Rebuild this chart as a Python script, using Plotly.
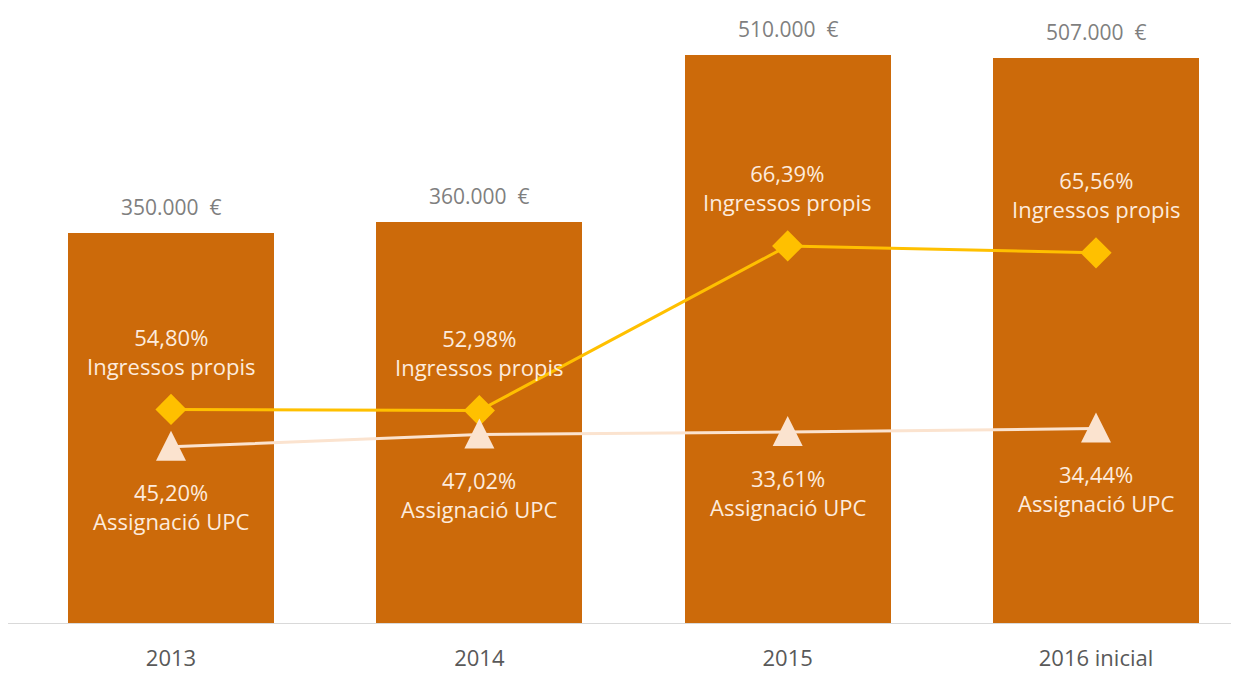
import plotly.graph_objects as go

categories = ["2013", "2014", "2015", "2016 inicial"]
totals = [350000, 360000, 510000, 507000]
total_labels = ["350.000  €", "360.000  €", "510.000  €", "507.000  €"]
propis_pct_labels = ["54,80%", "52,98%", "66,39%", "65,56%"]
upc_pct_labels = ["45,20%", "47,02%", "33,61%", "34,44%"]
propis_amounts = [191800, 190728, 338589, 332389]
upc_amounts = [158200, 169272, 171411, 174611]

BAR = "#CC6A0A"
GOLD = "#FFC000"
PEACH = "#FBE3CF"
GRAY = "#7F7F7F"
FONT = "Open Sans"

x = list(range(len(categories)))

Y_MAX = 550400
PLOT_H = 613
units_per_px = Y_MAX / PLOT_H
tri_shift = 16 * units_per_px  # lift arrow marker so it is centred on the line

fig = go.Figure()
fig.add_trace(go.Bar(x=x, y=totals, width=0.668, marker=dict(color=BAR, line=dict(width=0)),
                     showlegend=False, hoverinfo="skip"))
fig.add_trace(go.Scatter(x=x, y=upc_amounts, mode="lines",
                         line=dict(color=PEACH, width=3), showlegend=False))
fig.add_trace(go.Scatter(x=x, y=upc_amounts, mode="markers", yaxis="y2",
                         marker=dict(symbol="arrow-up", size=30, color=PEACH, line=dict(width=0)),
                         showlegend=False))
fig.add_trace(go.Scatter(x=x, y=propis_amounts, mode="lines+markers",
                         line=dict(color=GOLD, width=3),
                         marker=dict(symbol="diamond", size=24, color=GOLD),
                         showlegend=False))

annotations = []
for i in x:
    annotations.append(dict(x=i, y=totals[i], xref="x", yref="y", text=total_labels[i],
                            showarrow=False, yanchor="middle", yshift=26,
                            font=dict(family=FONT, size=21, color=GRAY)))
    annotations.append(dict(x=i, y=propis_amounts[i], xref="x", yref="y",
                            text=propis_pct_labels[i] + "<br>Ingressos propis",
                            showarrow=False, yanchor="middle", yshift=58,
                            font=dict(family=FONT, size=22, color="#FDEBDD")))
    annotations.append(dict(x=i, y=upc_amounts[i], xref="x", yref="y",
                            text=upc_pct_labels[i] + "<br>Assignació UPC",
                            showarrow=False, yanchor="middle", yshift=-60,
                            font=dict(family=FONT, size=22, color="#FDEBDD")))

fig.update_layout(
    width=1239, height=673,
    margin=dict(l=0, r=0, t=2, b=58),
    paper_bgcolor="white", plot_bgcolor="white",
    annotations=annotations,
    bargap=0,
    yaxis2=dict(overlaying="y", range=[-tri_shift, Y_MAX - tri_shift], visible=False),
)
fig.update_xaxes(range=[-0.5287, 3.4897], tickvals=x, ticktext=categories,
                 showgrid=False, zeroline=False, showline=True, linecolor="#D9D9D9", linewidth=1,
                 ticks="outside", ticklen=16, tickcolor="rgba(0,0,0,0)",
                 tickfont=dict(family=FONT, size=22, color="#595959"))
fig.layout.yaxis.update(range=[0, Y_MAX], visible=False, showgrid=False, zeroline=False)

fig.write_html("out.html")
